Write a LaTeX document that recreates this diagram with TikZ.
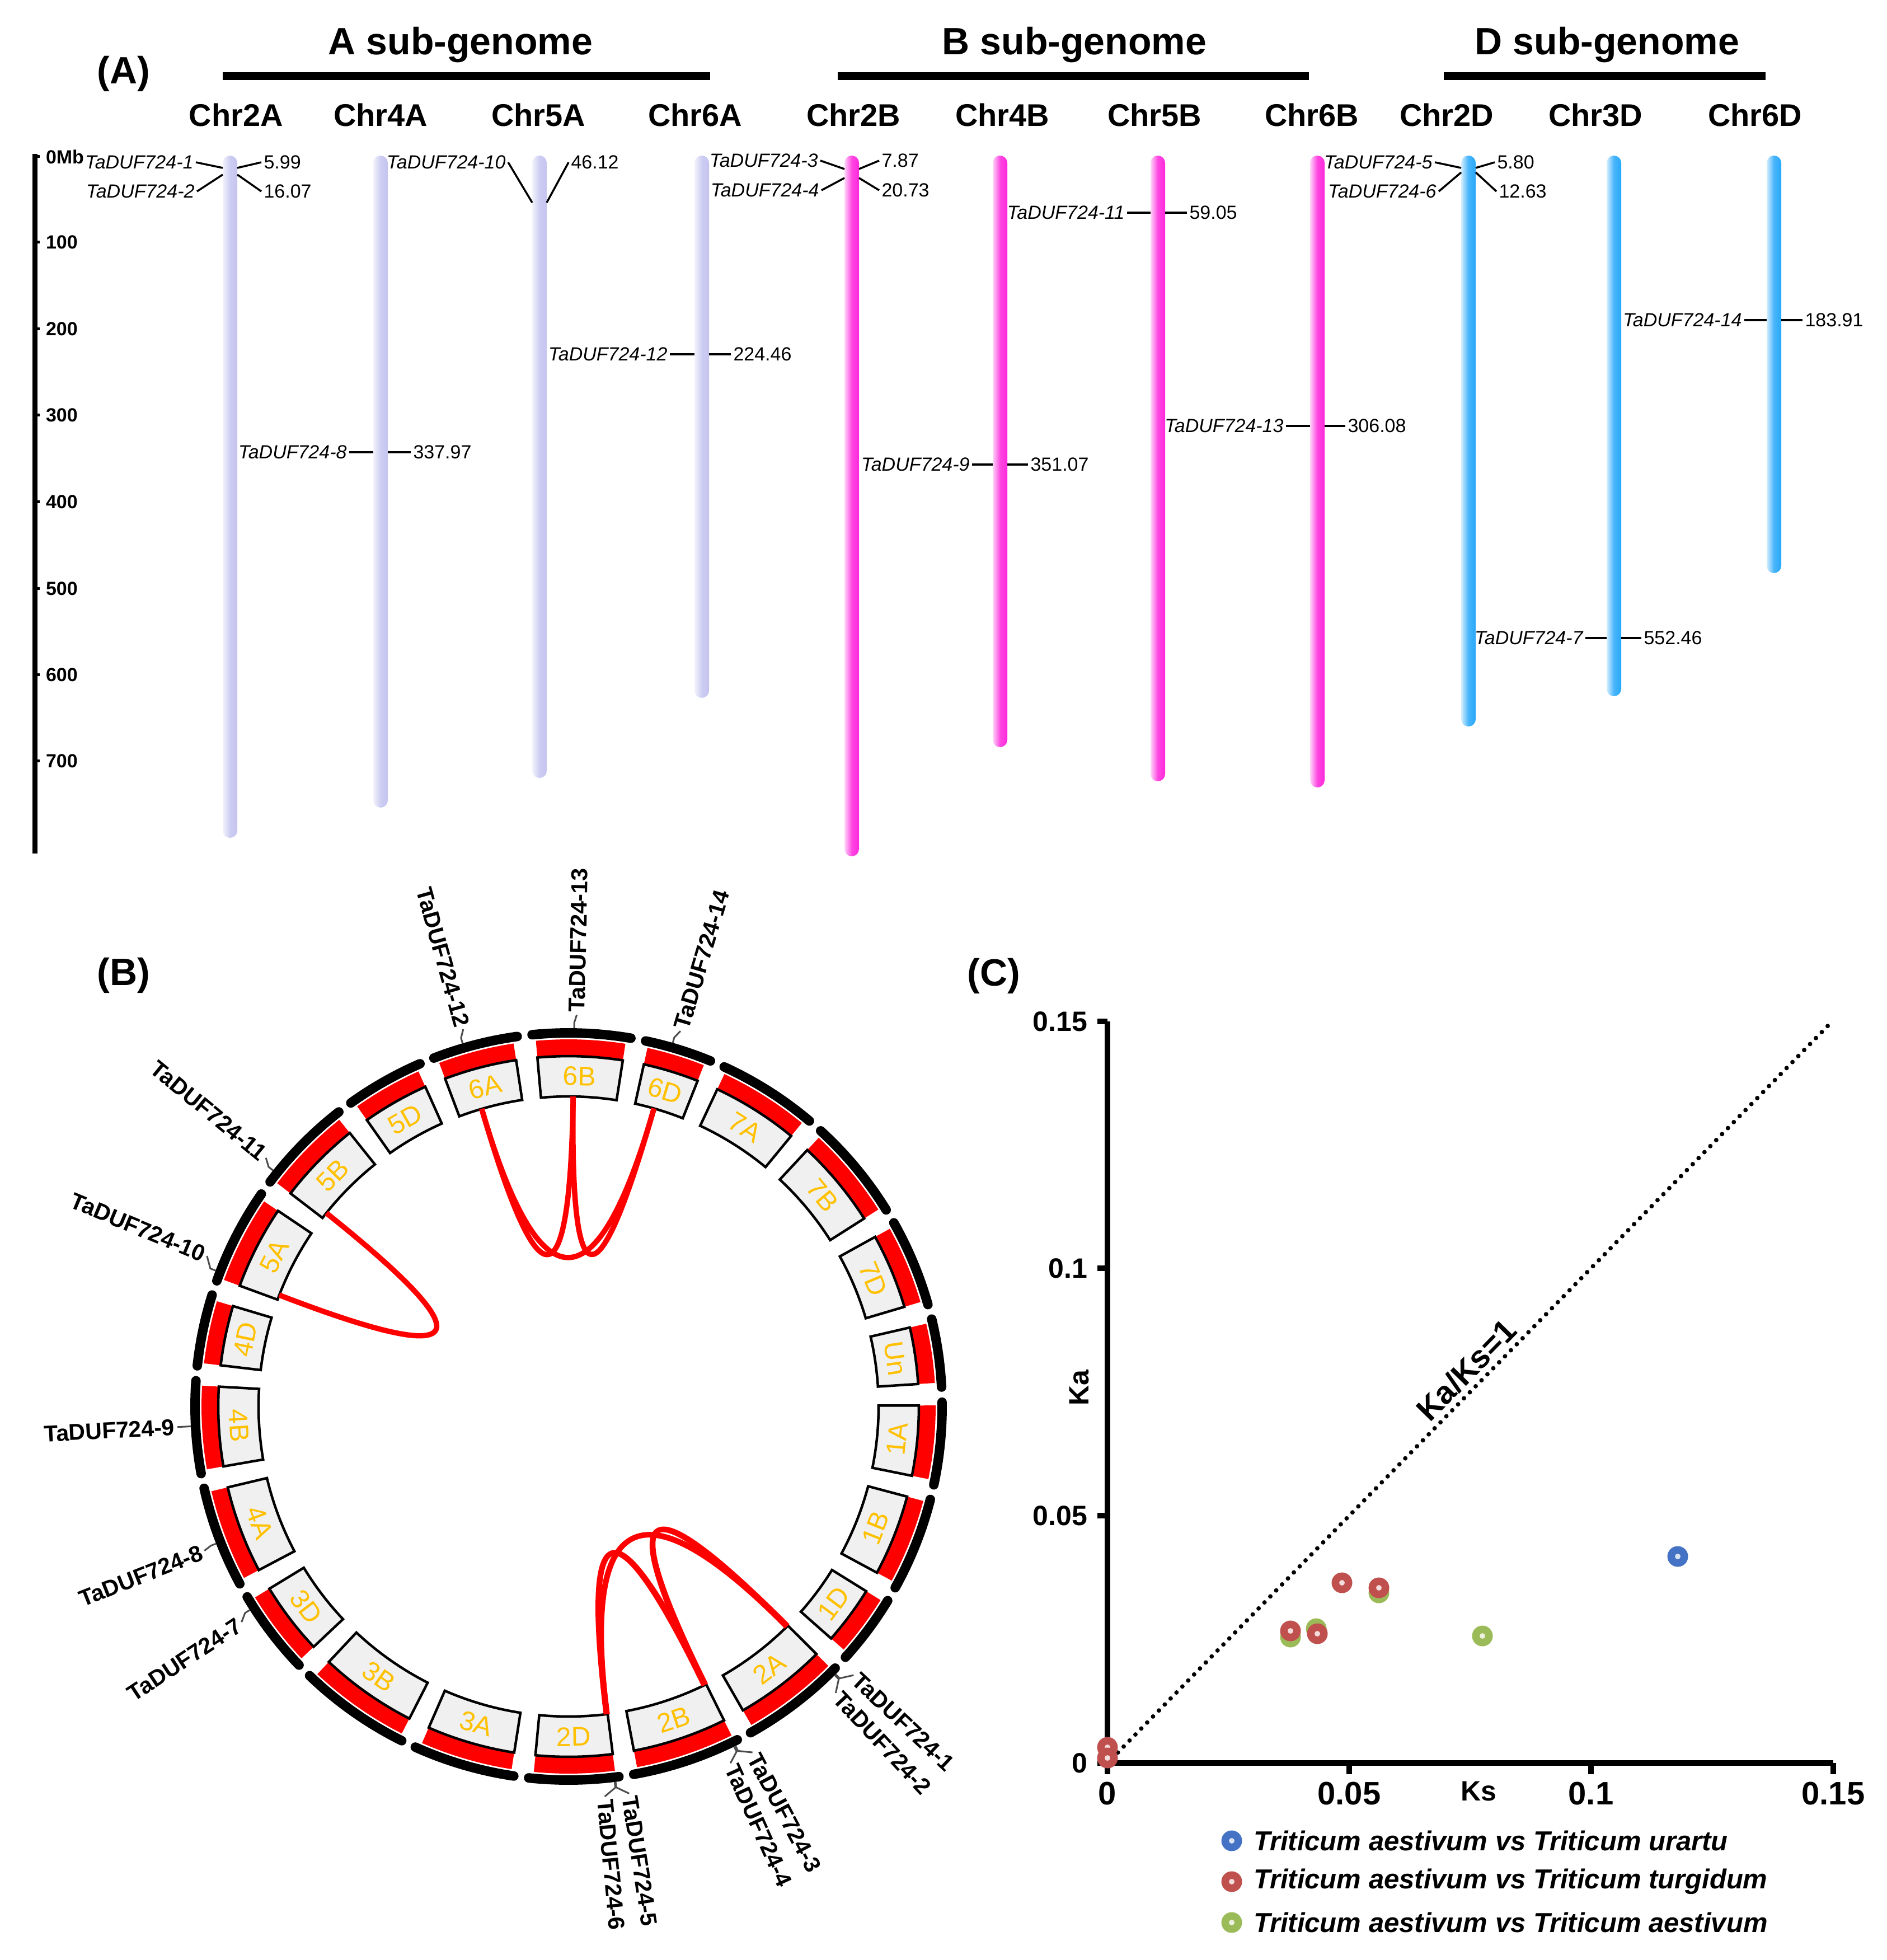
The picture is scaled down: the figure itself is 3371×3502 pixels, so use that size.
\documentclass[tikz,border=0pt]{standalone}
\usepackage{fontspec}
\setmainfont{Liberation Sans}
\newcommand\fsz[1]{\fontsize{#1}{#1}\selectfont}
\definecolor{chrA}{RGB}{196,196,240}
\definecolor{chrB}{RGB}{255,40,220}
\definecolor{chrD}{RGB}{40,168,250}
\definecolor{gold}{RGB}{255,192,0}
\definecolor{boxgray}{RGB}{240,240,240}
\definecolor{dotblue}{RGB}{68,114,196}
\definecolor{dotred}{RGB}{192,80,77}
\definecolor{dotgreen}{RGB}{155,187,89}
\tikzset{
  ttl/.style={font=\bfseries\fsz{6.8pt},inner sep=0pt,anchor=base},
  chrlbl/.style={font=\bfseries\fsz{5.6pt},inner sep=0pt,anchor=base},
  glbl/.style={font=\itshape\fsz{3.4pt},inner sep=0.25pt,anchor=east},
  numlbl/.style={font=\fsz{3.4pt},inner sep=0.25pt,anchor=west},
  scl/.style={font=\bfseries\fsz{3.4pt},inner sep=0pt,anchor=west},
  stub/.style={line width=0.35pt},
  gbar/.style={line width=1.4pt},
  panel/.style={font=\bfseries\fsz{6.8pt},inner sep=0pt},
  chrbox/.style={draw=black,line width=0.45pt,fill=boxgray},
  blackarc/.style={line width=1.7pt,line cap=round},
  chrtxt/.style={font=\fsz{4.8pt},text=gold,inner sep=0pt},
  gtick/.style={draw=black!70,line width=0.3pt},
  cglbl/.style={font=\bfseries\fsz{4.1pt},inner sep=0pt},
  lnk/.style={draw=red,line width=0.95pt},
  axisln/.style={line width=1.0pt},
  ylbl/.style={font=\bfseries\fsz{5pt},inner sep=0pt,anchor=east},
  xlbl/.style={font=\bfseries\fsz{5.8pt},inner sep=0pt},
  leg/.style={font=\bfseries\itshape\fsz{4.9pt},inner sep=0pt,anchor=west},
  dotline/.style={line width=0.8pt,line cap=round,dash pattern=on 0pt off 1.5pt},
}
\newcommand\chrbar[3]{\shade[left color=#3!20,right color=#3,middle color=#3!85,rounded corners=1.3pt] ({#1-13},-278) rectangle ({#1+13},-#2);}
\newcommand\dotpt[3]{\fill[#3] (#1,-#2) circle[radius=1.85pt]; \fill[#3!20] (#1,-#2) circle[radius=0.5pt];}
\begin{document}
\begin{tikzpicture}[x=0.1pt,y=0.1pt]
\useasboundingbox (0,0) rectangle (3371,-3502);
\fill[white] (0,0) rectangle (3371,-3502);

% ================= Panel A =================
\node[panel] (pA) at (221,-132) {(A)};
\node[ttl] (tA) at (823,-98) {A sub-genome};
\node[ttl] (tB) at (1920,-98) {B sub-genome};
\node[ttl] (tD) at (2872,-98) {D sub-genome};
\draw[gbar] (398,-136) -- (1269,-136);
\draw[gbar] (1497,-136) -- (2339,-136);
\draw[gbar] (2580,-136) -- (3155,-136);

\foreach \cx/\cn in {422/2A,680/4A,962/5A,1242/6A,1525/2B,1791/4B,2063/5B,2344/6B,2585/2D,2851/3D,3136/6D}{
  \node[chrlbl] (chr\cn) at (\cx,-226) {Chr\cn};
}

% scale
\draw[line width=0.9pt] (62,-275) -- (62,-1525);
\foreach \yy/\tx in {280/0Mb,433/100,588/200,742/300,897/400,1052/500,1206/600,1360/700}{
  \draw[line width=0.5pt] (62,-\yy) -- (71,-\yy);
  \node[scl] (s\tx) at (80,-\yy) {\tx};
}

% chromosome bars
\chrbar{411}{1497}{chrA}
\chrbar{680}{1443}{chrA}
\chrbar{964}{1390}{chrA}
\chrbar{1254}{1247}{chrA}
\chrbar{1522}{1530}{chrB}
\chrbar{1787}{1335}{chrB}
\chrbar{2069}{1396}{chrB}
\chrbar{2354}{1407}{chrB}
\chrbar{2624}{1298}{chrD}
\chrbar{2884}{1244}{chrD}
\chrbar{3170}{1024}{chrD}

% gene markers
\foreach \gn/\lx/\ly/\blx/\my/\brx/\nx/\ny/\nt in {
  1/350/290/398/300/424/467/290/5.99,
  2/352/342/398/312/424/467/342/16.07,
  8/624/808/667/808/693/734/808/337.97,
  10/908/290/951/362/977/1016/290/46.12,
  12/1197/633/1241/633/1267/1306/633/224.46,
  3/1466/287/1509/302/1535/1571/287/7.87,
  4/1468/340/1509/318/1535/1571/340/20.73,
  9/1737/830/1774/830/1800/1837/830/351.07,
  11/2014/380/2056/380/2082/2121/380/59.05,
  13/2298/761/2341/761/2367/2404/761/306.08,
  5/2564/290/2611/300/2637/2671/290/5.80,
  6/2571/342/2611/308/2637/2674/342/12.63,
  7/2833/1140/2871/1140/2897/2933/1140/552.46,
  14/3117/572/3157/572/3183/3221/572/183.91}{
  \node[glbl] (ga\gn) at (\lx,-\ly) {TaDUF724-\gn};
  \node[numlbl] (na\gn) at (\nx,-\ny) {\nt};
  \coordinate (bl\gn) at (\blx,-\my);
  \coordinate (br\gn) at (\brx,-\my);
  \draw[stub] (ga\gn.east) -- (bl\gn);
  \draw[stub] (br\gn) -- (na\gn.west);
}

% ================= Panel B =================
\node[panel] (pB) at (221,-1743) {(B)};
\begin{scope}[shift={(1016,-2513)}]
\foreach \nm/\sa/\sb in {1A/89.84/101.41,1B/104.91/118.32,1D/121.82/131.46,2A/134.96/150.15,2B/153.65/169.25,2D/172.75/185.43,3A/188.93/203.53,3B/207.03/223.19,3D/226.69/238.66,4A/242.16/256.65,4B/260.15/273.25,4D/276.75/286.66,5A/290.16/303.96,5B/307.46/321.34,5D/324.84/335.86,6A/339.36/351.39,6B/354.89/368.91,6D/372.41/381.62,7A/385.12/399.45,7B/402.95/417.55,7D/421.05/433.47,Un/436.97/446.32}{
  \pgfmathsetmacro\ts{90-\sa}
  \pgfmathsetmacro\te{90-\sb}
  \pgfmathsetmacro\tks{90-\sa+0.5}
  \pgfmathsetmacro\tke{90-\sb-0.7}
  \pgfmathsetmacro\tm{90-(\sa+\sb)/2}
  \pgfmathsetmacro\phm{mod((\sa+\sb)/2,360)}
  \pgfmathsetmacro\rot{ifthenelse(and(\phm>90,\phm<270),180-\phm,-\phm)}
  \fill[red] (\ts:65.6pt) arc[start angle=\ts,end angle=\te,radius=65.6pt] -- (\te:62.6pt) arc[start angle=\te,end angle=\ts,radius=62.6pt] -- cycle;
  \draw[blackarc] (\tks:66.75pt) arc[start angle=\tks,end angle=\tke,radius=66.75pt];
  \draw[chrbox] (\ts:62.6pt) arc[start angle=\ts,end angle=\te,radius=62.6pt] -- (\te:55.4pt) arc[start angle=\te,end angle=\ts,radius=55.4pt] -- cycle;
  \node[chrtxt,rotate=\rot] (seg\nm) at (\tm:59pt) {\nm};
}
% links
\foreach \la/\lb in {291.06/308.61,343.73/360.85,343.73/375.99,360.85/375.99,135.08/153.80,135.08/172.86,153.80/172.86,135.27/154.05,135.27/173.0,154.05/173.0}{
  \pgfmathsetmacro\ta{90-\la}
  \pgfmathsetmacro\tb{90-\lb}
  \coordinate (lka) at (\ta:55.4pt);
  \coordinate (lkb) at (\tb:55.4pt);
  \draw[lnk] (lka) .. controls (\ta:18.47pt) and (\tb:18.47pt) .. (lkb);
}
% gene labels, right half
\foreach \gn/\pg/\pl in {1/135.08/133.3,2/135.27/137.0,3/153.80/152.0,4/154.05/155.6,5/172.86/171.1,6/173.0/174.7,13/0.85/1.2,14/15.99/16.6}{
  \pgfmathsetmacro\tg{90-\pg}
  \pgfmathsetmacro\tl{90-\pl}
  \coordinate (gt\gn) at (\tg:67.6pt);
  \coordinate (gb\gn) at (\tg:68.6pt);
  \coordinate (gl\gn) at (\tl:70.0pt);
  \draw[gtick] (gt\gn) -- (gb\gn) -- (gl\gn);
  \node[cglbl,anchor=west,rotate=\tl] (cg\gn) at (\tl:70.3pt) {TaDUF724-\gn};
}
% gene labels, left half
\foreach \gn/\pg/\pl in {7/237.45/236.6,8/248.74/248.4,9/266.99/267.0,10/291.06/292.6,11/308.61/309.4,12/343.73/344.4}{
  \pgfmathsetmacro\tg{90-\pg}
  \pgfmathsetmacro\tl{90-\pl}
  \pgfmathsetmacro\tlr{\tl+180}
  \coordinate (gt\gn) at (\tg:67.6pt);
  \coordinate (gb\gn) at (\tg:68.6pt);
  \coordinate (gl\gn) at (\tl:70.0pt);
  \draw[gtick] (gt\gn) -- (gb\gn) -- (gl\gn);
  \node[cglbl,anchor=east,rotate=\tlr] (cg\gn) at (\tl:70.3pt) {TaDUF724-\gn};
}
\end{scope}

% ================= Panel C =================
\node[panel] (pC) at (1776,-1744) {(C)};
\draw[axisln] (1979,-1825) -- (1979,-3150) -- (3276,-3150);
\foreach \yy/\tx in {1825/0.15,2266/0.1,2708/0.05,3150/0}{
  \draw[axisln] (1961,-\yy) -- (1979,-\yy);
  \node[ylbl] (yl\yy) at (1945,-\yy) {\tx};
}
\foreach \xx/\tx in {1979/0,2411/0.05,2843/0.1,3276/0.15}{
  \draw[axisln] (\xx,-3150) -- (\xx,-3170);
  \node[xlbl] (xl\xx) at (\xx,-3205) {\tx};
}
\node[font=\bfseries\fsz{5pt},inner sep=0pt] (ks) at (2642,-3201) {Ks};
\node[font=\bfseries\fsz{5pt},inner sep=0pt,rotate=90] (ka) at (1929,-2480) {Ka};
\coordinate (d0) at (1987,-3142);
\coordinate (d1) at (3272,-1827);
\draw[dotline] (d0) -- (d1);
\node[font=\bfseries\fsz{5.7pt},inner sep=0pt,rotate=45.6] (kaks) at (2620,-2448) {Ka/Ks=1};

% data points
\dotpt{2464}{2846}{dotgreen}
\dotpt{2306}{2925}{dotgreen}
\dotpt{2352}{2910}{dotgreen}
\dotpt{2649}{2923}{dotgreen}
\dotpt{2398}{2828}{dotred}
\dotpt{2464}{2837}{dotred}
\dotpt{2306}{2914}{dotred}
\dotpt{2354}{2919}{dotred}
\dotpt{1979}{3122}{dotred}
\dotpt{1979}{3141}{dotred}
\dotpt{2998}{2781}{dotblue}

% legend
\dotpt{2201}{3289}{dotblue}
\dotpt{2201}{3362}{dotred}
\dotpt{2201}{3435}{dotgreen}
\node[leg] (leg1) at (2238,-3289) {Triticum aestivum vs Triticum urartu};
\node[leg] (leg2) at (2238,-3362) {Triticum aestivum vs Triticum turgidum};
\node[leg] (leg3) at (2238,-3435) {Triticum aestivum vs Triticum aestivum};
\end{tikzpicture}
\end{document}
